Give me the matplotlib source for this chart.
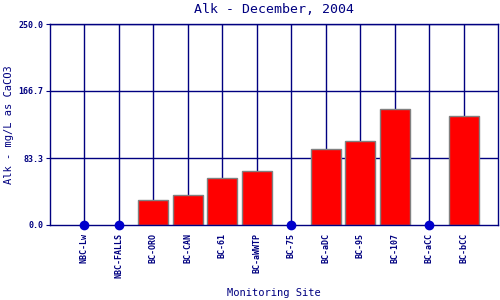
import matplotlib
matplotlib.use("Agg")
import matplotlib.pyplot as plt
import numpy as np

# 站點與數值（0 表示無資料，以藍點表示）
sites = ["NBC-Lw", "NBC-FALLS", "BC-ORO", "BC-CAN", "BC-61", "BC-aWWTP",
         "BC-75", "BC-aDC", "BC-95", "BC-107", "BC-aCC", "BC-bCC"]
alk = [0, 0, 31, 37, 59, 67, 0, 95, 105, 144, 0, 136]
yticks = [0.0, 83.3, 166.7, 250.0]

NAVY = "#000080"
plt.rcParams["font.family"] = ["DejaVu Sans Mono"]

fig = plt.figure(figsize=(5, 3), dpi=100)
ax = fig.add_axes([0.1, 0.25, 0.896, 0.67])

x = np.arange(1, len(sites) + 1)
vals = np.array(alk, dtype=float)

# 格線
for xi in x:
    ax.axvline(xi, color=NAVY, lw=1, zorder=1)
for yv in yticks[1:]:
    ax.axhline(yv, color=NAVY, lw=1, zorder=1)

has = vals > 0
ax.bar(x[has], vals[has], width=0.87, color="#ff0000", edgecolor="#808080",
       linewidth=1, zorder=2)
ax.plot(x[~has], vals[~has], "o", color="#0000cc", markersize=6,
        clip_on=False, zorder=4)

ax.set_xlim(0, len(sites) + 1)
ax.set_ylim(0, 250)
ax.set_yticks(yticks)
ax.set_yticklabels([f"{v:.1f}" for v in yticks], fontsize=6, fontweight="bold",
                   color=NAVY)
ax.set_xticks(x)
ax.set_xticklabels(sites, rotation=90, fontsize=6, fontweight="bold", color=NAVY)
ax.tick_params(axis="x", length=0, pad=6)
ax.tick_params(axis="y", length=3, color=NAVY, pad=2)

for s in ax.spines.values():
    s.set_color(NAVY)
    s.set_linewidth(1)

ax.set_title("Alk - December, 2004", fontsize=9.5, color=NAVY, pad=8)
ax.set_ylabel("Alk - mg/L as CaCO3", fontsize=7.5, color=NAVY)
ax.yaxis.set_label_coords(-0.08, 0.5)
ax.set_xlabel("Monitoring Site", fontsize=7.5, color=NAVY)
ax.xaxis.set_label_coords(0.5, -0.315)

fig.savefig("out.png", dpi=100)
